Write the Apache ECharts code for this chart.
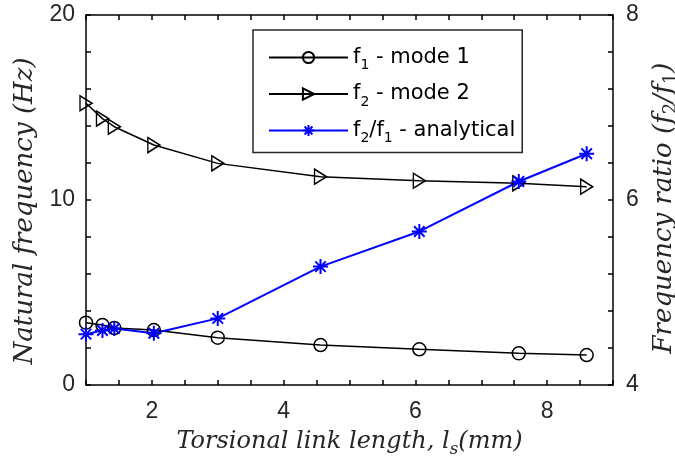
<!DOCTYPE html>
<html>
<head>
<meta charset="utf-8">
<script src="https://cdn.jsdelivr.net/npm/echarts@6/dist/echarts.min.js"></script>
<style>
html, body { margin: 0; padding: 0; background: #fff; }
#chart { width: 675px; height: 459px; }
</style>
</head>
<body>
<div id="chart"></div>
<script>
// torsional link length (mm)
var lengths = [1, 1.25, 1.43, 2.03, 3.0, 4.56, 6.06, 7.57, 8.6];
// natural frequencies (Hz)
var mode1 = [3.37, 3.24, 3.08, 2.97, 2.56, 2.16, 1.93, 1.71, 1.62];
var mode2 = [15.23, 14.4, 13.96, 12.97, 11.98, 11.26, 11.04, 10.9, 10.72];
// frequency ratio f2/f1
var ratio = [4.55, 4.59, 4.61, 4.56, 4.72, 5.28, 5.66, 6.20, 6.50];

var xTicks = [2, 4, 6, 8];
var leftTicks = [0, 10, 20];
var rightTicks = [4, 6, 8];

function pairs(xs, ys) {
  return xs.map(function (x, i) { return [x, ys[i]]; });
}
function onTick(list) {
  return function (v) {
    for (var i = 0; i < list.length; i++) {
      if (Math.abs(v - list[i]) < 1e-6) return String(list[i]);
    }
    return '';
  };
}

var labelFont = { color: '#262626', fontSize: 23, fontFamily: 'Liberation Sans' };
function mathRich(size) {
  return {
    i: { fontFamily: 'DejaVu Serif', fontStyle: 'italic', fontSize: size, color: '#262626', lineHeight: 32 },
    s: { fontFamily: 'DejaVu Serif', fontStyle: 'italic', fontSize: size * 0.7, color: '#262626', lineHeight: 14, verticalAlign: 'bottom' },
    r: { fontFamily: 'DejaVu Serif', fontSize: size * 0.7, color: '#262626', lineHeight: 14, verticalAlign: 'bottom' }
  };
}
var legendNames = {
  'f1 - mode 1': '{m|f}{s|1}{m| - mode 1}',
  'f2 - mode 2': '{m|f}{s|2}{m| - mode 2}',
  'f2/f1 - analytical': '{m|f}{s|2}{m|/f}{s|1}{m| - analytical}'
};

var axisBase = {
  axisLine: { show: true, onZero: false, lineStyle: { color: '#000', width: 1.5 } },
  axisTick: { show: true, inside: true, length: 5, lineStyle: { color: '#000', width: 1.5 } },
  splitLine: { show: false }
};

var chart = echarts.init(document.getElementById('chart'));
chart.setOption({
  animation: false,
  backgroundColor: '#fff',
  grid: { left: 86, right: 62, top: 15, bottom: 74, outerBoundsMode: 'none', containLabel: false },
  legend: {
    orient: 'vertical',
    left: 253,
    top: 30,
    padding: [17, 7, 7, 15],
    itemGap: 11,
    itemWidth: 79,
    itemHeight: 14,
    itemTextGap: 5,
    borderColor: '#262626',
    borderWidth: 1.5,
    backgroundColor: '#fff',
    formatter: function (name) { return legendNames[name]; },
    textStyle: {
      rich: {
        m: { fontFamily: 'DejaVu Sans', fontSize: 21, color: '#000', lineHeight: 30 },
        s: { fontFamily: 'DejaVu Sans', fontSize: 14, color: '#000', lineHeight: 12, verticalAlign: 'bottom' }
      }
    },
    data: ['f1 - mode 1', 'f2 - mode 2', 'f2/f1 - analytical']
  },
  xAxis: [
    Object.assign({
      type: 'value', min: 1, max: 9, interval: 0.5, position: 'bottom',
      axisLabel: Object.assign({ margin: 15, formatter: onTick(xTicks) }, labelFont),
      name: '{i|Torsional link length, l}{s|s}{i|(mm)}',
      nameLocation: 'middle', nameGap: 41,
      nameTextStyle: { rich: mathRich(24) }
    }, axisBase),
    Object.assign({
      type: 'value', min: 1, max: 9, interval: 0.5, position: 'top',
      axisLabel: { show: false }
    }, axisBase)
  ],
  yAxis: [
    Object.assign({
      type: 'value', min: 0, max: 20, interval: 2, position: 'left',
      axisLabel: Object.assign({ margin: 11, formatter: onTick(leftTicks) }, labelFont),
      name: '{i|Natural frequency (Hz)}',
      nameLocation: 'middle', nameGap: 45, nameRotate: 90,
      nameTextStyle: { rich: mathRich(26), padding: [0, 22, 0, 0] }
    }, axisBase),
    Object.assign({
      type: 'value', min: 4, max: 8, interval: 0.4, position: 'right',
      axisLabel: Object.assign({ margin: 13, formatter: onTick(rightTicks) }, labelFont),
      name: '{i|Frequency ratio (f}{r|2}{i|/f}{r|1}{i|)}',
      nameLocation: 'middle', nameGap: 35, nameRotate: 90,
      nameTextStyle: { rich: mathRich(26), padding: [0, 16, 0, 0] }
    }, axisBase)
  ],
  series: [
    {
      name: 'f1 - mode 1', type: 'line', xAxisIndex: 0, yAxisIndex: 0,
      data: pairs(lengths, mode1),
      symbol: 'circle', symbolSize: 13,
      lineStyle: { color: '#000', width: 1.5 },
      itemStyle: { color: 'rgba(255,255,255,0)', borderColor: '#000', borderWidth: 1.5 }
    },
    {
      name: 'f2 - mode 2', type: 'line', xAxisIndex: 0, yAxisIndex: 0,
      data: pairs(lengths, mode2),
      symbol: 'triangle', symbolSize: [15, 12], symbolRotate: -90,
      lineStyle: { color: '#000', width: 1.5 },
      itemStyle: { color: 'rgba(255,255,255,0)', borderColor: '#000', borderWidth: 1.5 }
    },
    {
      name: 'f2/f1 - analytical', type: 'line', xAxisIndex: 0, yAxisIndex: 1,
      data: pairs(lengths, ratio),
      symbol: 'path://M0,-1L0,1M-1,0L1,0M-0.7,-0.7L0.7,0.7M-0.7,0.7L0.7,-0.7',
      symbolSize: 15,
      lineStyle: { color: '#0000ff', width: 2 },
      itemStyle: { color: 'none', borderColor: '#0000ff', borderWidth: 2 }
    }
  ]
});
</script>
</body>
</html>
